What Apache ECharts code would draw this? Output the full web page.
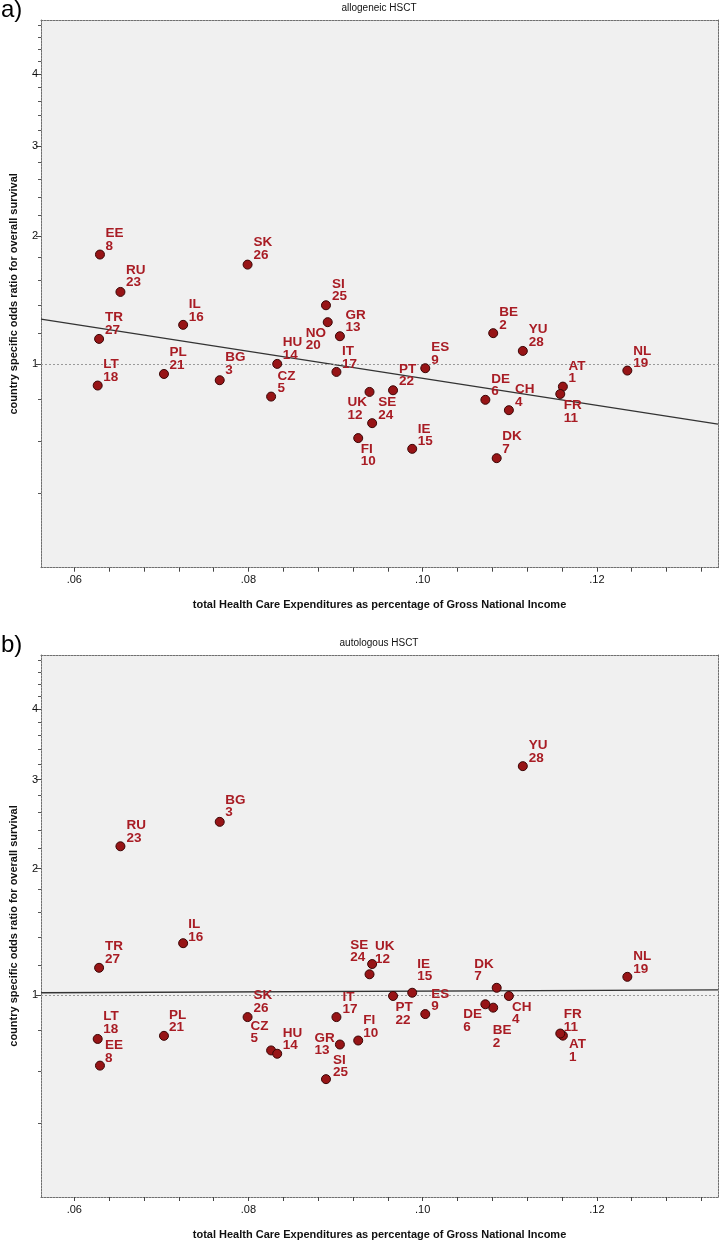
<!DOCTYPE html>
<html><head><meta charset="utf-8">
<script src="https://cdn.jsdelivr.net/npm/echarts@6/dist/echarts.min.js"></script>
<style>html,body{margin:0;padding:0;background:#fff}#c{width:720px;height:1241px}</style>
</head><body><div id="c"></div>
<script>
// ---------- data ----------
const countries = ['AT','BE','BG','CH','CZ','DE','DK','EE','ES','FI','FR','UK','GR','HU','IE','IL','IT','LT','NL','NO','PL','PT','RU','SE','SI','SK','TR','YU'];
const countryNumbers = [1,2,3,4,5,6,7,8,9,10,11,12,13,14,15,16,17,18,19,20,21,22,23,24,25,26,27,28];
const healthExpGNI = [0.1161,0.1081,0.0767,0.1099,0.0826,0.1072,0.1085,0.06295,0.1003,0.0926,0.1158,0.0939,0.0905,0.0833,0.0988,0.0725,0.0901,0.06269,0.1235,0.0891,0.0703,0.0966,0.0653,0.0942,0.0889,0.0799,0.06285,0.1115];
const orAllogeneic = [0.868,1.199,0.904,0.744,0.814,0.797,0.529,1.824,0.974,0.613,0.828,0.839,1.178,1.0,0.567,1.257,0.952,0.874,0.960,1.276,0.940,0.848,1.505,0.681,1.401,1.734,1.160,1.081];
const orAutologous = [0.772,0.926,2.491,0.996,0.698,0.946,1.047,0.627,0.889,0.747,0.783,1.135,0.727,0.682,1.016,1.356,0.872,0.755,1.118,null,0.771,0.996,2.225,1.205,0.568,0.872,1.179,3.175];
const fitAllogeneic = [[0.05618,1.2974],[0.13391,0.6761]];
const fitAutologous = [[0.05618,1.0159],[0.13391,1.0345]];
const xTickValues = [0.06,0.064,0.068,0.072,0.076,0.08,0.084,0.088,0.092,0.096,0.10,0.104,0.108,0.112,0.116,0.12,0.124,0.128,0.132];
const xLabelValues = [0.06,0.08,0.10,0.12];
const yLabelValues = [1,2,3,4];
const yMinorValues = [0.4,0.6,0.8,1.2,1.4,1.6,1.8,2.2,2.4,2.6,2.8,3.2,3.4,3.6,3.8,4.2,4.4,4.6,4.8];
const panelTitles = ['allogeneic HSCT','autologous HSCT'];
const panelLetters = ['a)','b)'];
const xAxisTitle = 'total Health Care Expenditures as percentage of Gross National Income';
const yAxisTitle = 'country specific odds ratio for overall survival';

// label placement (offset of label's top-left from the point), kept apart from data
const labelOffsetA = [[6,-25],[6.5,-25],[6,-27],[6.5,-25],[7,-25],[6.5,-25],[6,-26],[6,-25.5],[6.5,-25],[3,6.5],[4,7.5],[-21.5,6.5],[6,-25.5],[6,-25.5],[6,-24],[6,-24.5],[6,-24.5],[6,-25.5],[6.5,-24],[-21.5,6.5],[6,-25.5],[6.5,-25.5],[6,-26],[6.5,-25],[6.5,-25.5],[6.5,-26.5],[6.5,-25.5],[6.5,-25.5]];
const labelOffsetB = [[6.5,4.5],[0,18.5],[6,-26],[3.5,7],[-20,-28.5],[-21.5,6],[-22,-28],[5.5,-24.5],[6.5,-24.5],[5.5,-24],[4,-23],[6,-32],[-25,-10.5],[6,-25],[5.5,-33],[5.5,-23],[6.5,-24.5],[6,-26.5],[6.5,-24.5],null,[5.5,-25],[3,7.5],[6.5,-25],[-21.5,-23.5],[7.5,-23.5],[6.5,-26],[6.5,-25.5],[6.5,-25]];

// ---------- styling / layout ----------
const FONT = 'Liberation Sans, Arial, sans-serif';
const tf = v => Math.cbrt(v);           // power (cube-root) scale of the y axis
const Y_MIN = 0.5866, Y_MAX = 1.6976;
const X_MIN = 0.05618, X_MAX = 0.13391;
const SYM = 9;
const LABEL_COLOR = '#a81c24';
const frameLine = {show:true, lineStyle:{color:'#707070', width:1, type:[2,1]}};
const grids = [
  {left:40, top:20, width:678, height:547.7, show:true, backgroundColor:'#f0f0f0', borderWidth:0},
  {left:40, top:655, width:678, height:547.7, show:true, backgroundColor:'#f0f0f0', borderWidth:0}
];

const xAxes = [], yAxes = [], series = [];
[0,1].forEach(g => {
  xAxes.push({
    gridIndex:g, type:'value', min:X_MIN, max:X_MAX, position:'bottom',
    axisLine:frameLine, splitLine:{show:false},
    axisTick:{show:true, customValues:xTickValues, length:4, lineStyle:{color:'#444'}},
    axisLabel:{show:true, customValues:xLabelValues, color:'#111', fontSize:11, fontFamily:FONT, margin:7,
      formatter:v => v.toFixed(2).replace(/^0/,'')},
    name:xAxisTitle, nameLocation:'middle', nameGap:32,
    nameTextStyle:{color:'#111', fontSize:11, fontWeight:'bold', fontFamily:FONT}
  });
  xAxes.push({gridIndex:g, type:'value', min:X_MIN, max:X_MAX, position:'top',
    axisLine:frameLine, axisTick:{show:false}, axisLabel:{show:false}, splitLine:{show:false}});
  yAxes.push({
    gridIndex:g, type:'value', min:Y_MIN, max:Y_MAX, position:'left',
    axisLine:frameLine, splitLine:{show:false},
    axisTick:{show:true, customValues:yLabelValues.map(tf), length:5, lineStyle:{color:'#444'}},
    axisLabel:{show:true, customValues:yLabelValues.map(tf), color:'#111', fontSize:11, fontFamily:FONT, margin:3,
      formatter:v => String(Math.round(v*v*v))},
    name:yAxisTitle, nameLocation:'middle', nameGap:22, nameRotate:90,
    nameTextStyle:{color:'#111', fontSize:11, fontWeight:'bold', fontFamily:FONT}
  });
  yAxes.push({gridIndex:g, type:'value', min:Y_MIN, max:Y_MAX, position:'left', offset:0,
    axisLine:{show:false}, splitLine:{show:false}, axisLabel:{show:false},
    axisTick:{show:true, customValues:yMinorValues.map(tf), length:3, lineStyle:{color:'#555'}}});
  yAxes.push({gridIndex:g, type:'value', min:Y_MIN, max:Y_MAX, position:'right',
    axisLine:frameLine, axisTick:{show:false}, axisLabel:{show:false}, splitLine:{show:false}});
});

function pointData(orVals, offsets){
  const out = [];
  countries.forEach((c,i) => {
    if (orVals[i] == null) return;
    const off = offsets[i];
    out.push({
      value:[healthExpGNI[i], tf(orVals[i])],
      label:{position:[off[0] + SYM/2, off[1] - 1.5 + SYM/2]},
      name:c, num:countryNumbers[i]
    });
  });
  return out;
}

[[orAllogeneic, labelOffsetA, fitAllogeneic],[orAutologous, labelOffsetB, fitAutologous]].forEach((p,g) => {
  const xi = g*2, yi = g*3;
  series.push({
    type:'line', xAxisIndex:xi, yAxisIndex:yi, symbol:'none', silent:true,
    data:p[2].map(d => [d[0], tf(d[1])]),
    lineStyle:{color:'#333333', width:1.3}, z:3,
    markLine:{silent:true, symbol:'none', label:{show:false},
      lineStyle:{color:'#999999', width:1, type:[2,2]}, data:[{yAxis:tf(1)}]}
  });
  series.push({
    type:'scatter', xAxisIndex:xi, yAxisIndex:yi, symbol:'circle', symbolSize:SYM, z:5,
    itemStyle:{color:'#971416', borderColor:'#3a0505', borderWidth:1, opacity:1},
    label:{show:true, align:'left', verticalAlign:'top', color:LABEL_COLOR, fontSize:13.5, fontWeight:'bold',
      fontFamily:FONT, lineHeight:12.5,
      formatter:pr => pr.data.name + '\n' + pr.data.num},
    labelLayout:{hideOverlap:false},
    emphasis:{disabled:true},
    data:pointData(p[0], p[1])
  });
});

const graphics = [];
[[0,20],[1,655]].forEach(([g,top]) => {
  graphics.push({type:'text', left:1, top:top-22, style:{text:panelLetters[g], font:'24px '+FONT, fill:'#000'}});
  graphics.push({type:'text', x:379, y:top-12, style:{text:panelTitles[g], font:'10px '+FONT, fill:'#111', textAlign:'center', textVerticalAlign:'middle'}});
});

const chart = echarts.init(document.getElementById('c'), null, {renderer:'canvas'});
chart.setOption({
  animation:false, backgroundColor:'#ffffff',
  grid:grids, xAxis:xAxes, yAxis:yAxes, series:series, graphic:graphics
});
</script></body></html>
